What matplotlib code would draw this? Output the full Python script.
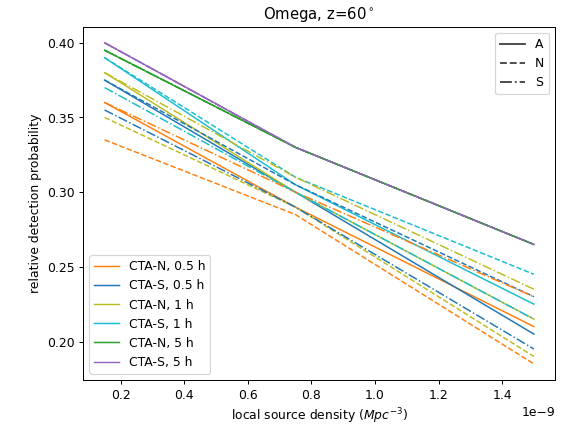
import matplotlib
matplotlib.use("Agg")
import matplotlib.pyplot as plt
from matplotlib.lines import Line2D

density = [0.15e-9, 0.75e-9, 1.5e-9]

labels = ["CTA-N, 0.5 h", "CTA-S, 0.5 h", "CTA-N, 1 h", "CTA-S, 1 h", "CTA-N, 5 h", "CTA-S, 5 h"]
colors = ["tab:orange", "tab:blue", "tab:olive", "tab:cyan", "tab:green", "tab:purple"]

# A (solid)
prob_A = [
    [0.360, 0.290, 0.210],
    [0.375, 0.300, 0.205],
    [0.380, 0.300, 0.215],
    [0.390, 0.305, 0.225],
    [0.395, 0.330, 0.265],
    [0.400, 0.330, 0.265],
]
# N (dashed)
prob_N = [
    [0.335, 0.285, 0.185],
    [0.375, 0.305, 0.230],
    [0.350, 0.290, 0.190],
    [0.390, 0.310, 0.245],
    [0.395, 0.330, 0.265],
    [0.400, 0.330, 0.265],
]
# S (dash-dot)
prob_S = [
    [0.360, 0.300, 0.230],
    [0.355, 0.290, 0.195],
    [0.380, 0.310, 0.235],
    [0.370, 0.300, 0.215],
    [0.395, 0.330, 0.265],
    [0.400, 0.330, 0.265],
]

fig, ax = plt.subplots(figsize=(6.4, 4.8), dpi=89)
fig.subplots_adjust(left=0.146, right=0.975, bottom=0.110, top=0.937)
for i in range(len(labels)):
    ax.plot(density, prob_A[i], color=colors[i], ls="-", lw=1.2, label=labels[i])
for i in range(len(labels)):
    ax.plot(density, prob_N[i], color=colors[i], ls="--", lw=1.2)
for i in range(len(labels)):
    ax.plot(density, prob_S[i], color=colors[i], ls="-.", lw=1.2)

leg1 = ax.legend(loc="lower left")
ax.add_artist(leg1)
style_handles = [Line2D([], [], color="#444444", ls="-"),
                 Line2D([], [], color="#444444", ls="--"),
                 Line2D([], [], color="#444444", ls="-.")]
ax.legend(style_handles, ["A", "N", "S"], loc="upper right")

ax.set_title(r"Omega, z=60$^\circ$")
ax.set_xlabel(r"local source density ($Mpc^{-3}$)")
ax.set_ylabel("relative detection probability")
fig.savefig("out.png", dpi=89)
